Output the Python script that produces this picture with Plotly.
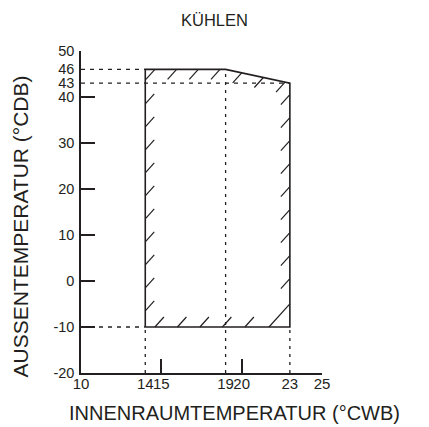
import numpy as np
import plotly.graph_objects as go

title_text = "KÜHLEN"
x_title = "INNENRAUMTEMPERATUR (°CWB)"
y_title = "AUSSENTEMPERATUR (°CDB)"

# operating envelope corners (°CWB, °CDB)
env_x = [14, 14, 19, 23, 23, 14]
env_y = [-10, 46, 46, 43, -10, -10]

# dashed reference lines
h_ref_y = [46, 43, -10]
h_ref_x_end = [14, 23, 14]
v_ref_x = [14, 19, 23]
v_ref_y_end = [-10, 46, -10]

x_range = [10, 25]
y_range = [-20, 50]
x_label_vals = [10, 14, 15, 19, 20, 23, 25]
x_tick_vals = [15, 20, 25]
y_label_vals = [50, 46, 43, 40, 30, 20, 10, 0, -10, -20]
y_tick_vals = [50, 40, 30, 20, 10, 0, -10]

INK = "#231f20"
FONT = "Liberation Sans, Arial, sans-serif"

# ---- hatch strokes along the inside of the envelope border ----
HX, HY = 0.56, 2.17  # stroke extent (data units)
xl, xr = min(env_x), max(env_x)
yb = min(env_y)
top_x = env_x[1:4]
top_y = env_y[1:4]

hx, hy = [], []


def seg(x0, y0, x1, y1):
    hx.extend([x0, x1, None])
    hy.extend([y0, y1, None])


for y0 in np.arange(yb + 3.5, top_y[-1] - 2, 5):
    seg(xl, y0, xl + HX, y0 + HY)
for x0 in np.arange(xl + 0.6, xr - 1.5, 1.4):
    seg(x0, yb, x0 + HX, yb + HY)
seg(xr - 1.3, yb, xr, yb + 1.3 * HY / HX)
for yt in np.arange(yb + 10.5, top_y[-1] - 2, 5):
    seg(xr - HX, yt - HY, xr, yt)
for xt in np.arange(xl + 0.6, xr, 1.35):
    yt = float(np.interp(xt, top_x, top_y))
    seg(xt - HX, yt - HY, xt, yt)

fig = go.Figure()

# dashed reference lines
for yv, xe in zip(h_ref_y, h_ref_x_end):
    fig.add_trace(go.Scatter(x=[x_range[0], xe], y=[yv, yv], mode="lines",
                             line=dict(color=INK, width=1.3, dash="4px,5px"),
                             hoverinfo="skip", showlegend=False))
for xv, ye in zip(v_ref_x, v_ref_y_end):
    fig.add_trace(go.Scatter(x=[xv, xv], y=[y_range[0], ye], mode="lines",
                             line=dict(color=INK, width=1.3, dash="3px,5px"),
                             hoverinfo="skip", showlegend=False))

# hatching
fig.add_trace(go.Scatter(x=hx, y=hy, mode="lines",
                         line=dict(color=INK, width=1.2),
                         hoverinfo="skip", showlegend=False))

# envelope outline
fig.add_trace(go.Scatter(x=env_x, y=env_y, mode="lines",
                         line=dict(color=INK, width=1.6),
                         hoverinfo="skip", showlegend=False))

# dummy trace for the tick-mark overlay axes
fig.add_trace(go.Scatter(x=[None], y=[None], xaxis="x2", yaxis="y2",
                         mode="lines", showlegend=False, hoverinfo="skip"))

axis_common = dict(showgrid=False, zeroline=False, automargin=False)

# page body has an 8px default margin: figure is sized/offset to compensate
fig.update_layout(
    width=421, height=419,
    margin=dict(l=73, r=107, t=43, b=54),
    paper_bgcolor="white", plot_bgcolor="white",
    font=dict(family=FONT, color=INK, size=15),
    xaxis=dict(range=x_range, tickmode="array", tickvals=x_label_vals,
               ticktext=[str(v) for v in x_label_vals], ticks="",
               tickangle=0,
               showline=True, linecolor=INK, linewidth=1.5,
               tickfont=dict(size=15), ticklabelstandoff=-4, **axis_common),
    yaxis=dict(range=y_range, tickmode="array", tickvals=y_label_vals,
               ticktext=[str(v) for v in y_label_vals], ticks="",
               showline=True, linecolor=INK, linewidth=1.5,
               tickfont=dict(size=14.5), ticklabelstandoff=2, **axis_common),
    xaxis2=dict(range=x_range, overlaying="x", anchor="y2", side="bottom",
                tickmode="array", tickvals=x_tick_vals, ticks="inside",
                ticklen=14, tickwidth=1.5, tickcolor=INK,
                showticklabels=False, showline=False, **axis_common),
    yaxis2=dict(range=y_range, overlaying="y", anchor="x2", side="left",
                tickmode="array", tickvals=y_tick_vals, ticks="inside",
                ticklen=14, tickwidth=1.5, tickcolor=INK,
                showticklabels=False, showline=False, **axis_common),
    annotations=[
        dict(text=title_text, xref="paper", yref="paper", x=0.555, y=1.0,
             xanchor="center", yanchor="middle",
             yshift=31, showarrow=False, font=dict(size=16.5)),
        dict(text=x_title, xref="paper", yref="paper", x=0.635, y=0,
             xanchor="center", yanchor="middle",
             yshift=-40, showarrow=False, font=dict(size=20)),
        dict(text=y_title, xref="paper", yref="paper", x=0, y=0.455,
             xanchor="center", yanchor="middle",
             xshift=-61, textangle=-90, showarrow=False,
             font=dict(size=21)),
    ],
)

fig.write_html("out.html")
